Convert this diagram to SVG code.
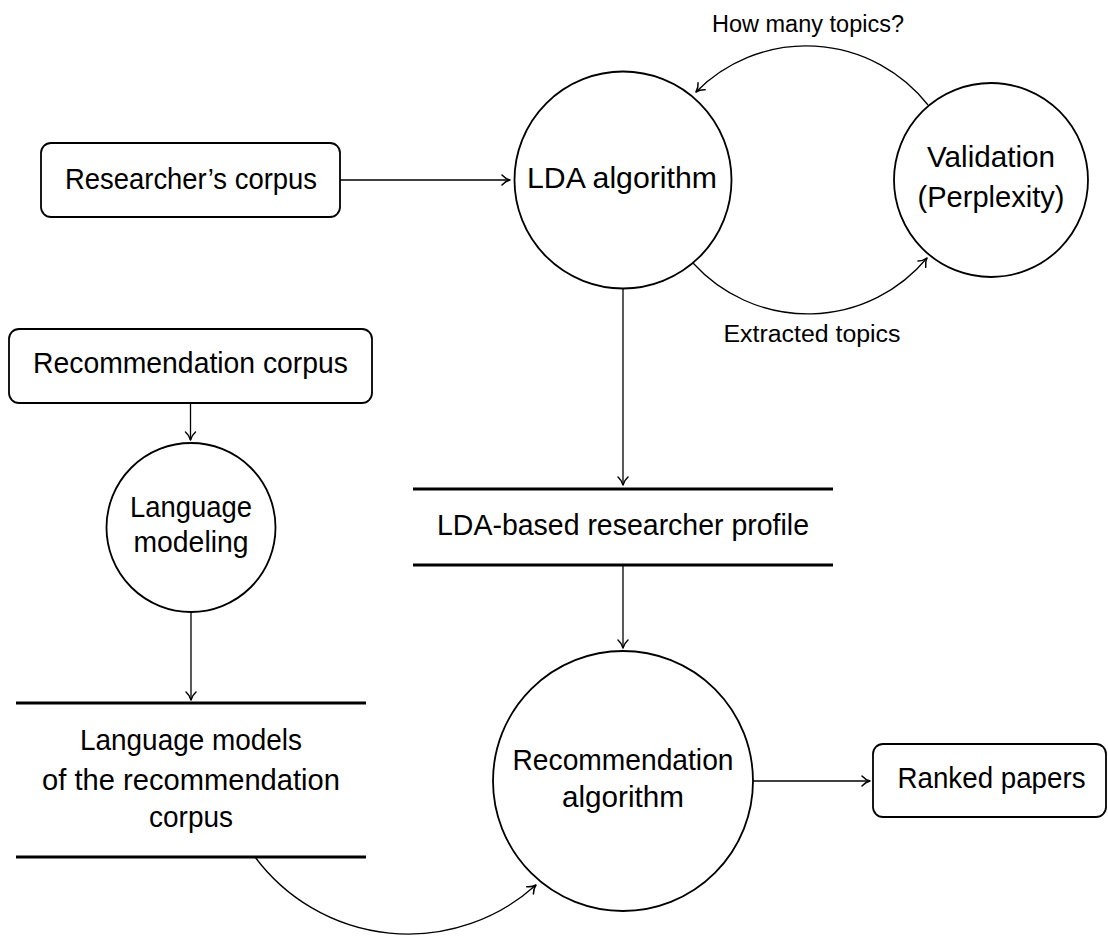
<svg xmlns="http://www.w3.org/2000/svg" width="1108" height="936" viewBox="0 0 1108 936">
<style>
.t{font-family:"Liberation Sans",Arial,sans-serif;font-size:30px;fill:#000;text-anchor:middle}
.s{font-family:"Liberation Sans",Arial,sans-serif;font-size:23px;fill:#000;text-anchor:middle}
.n{fill:#fff;stroke:#000;stroke-width:1.8}
.st{stroke:#000;stroke-width:2.8;fill:none}
.c{fill:none;stroke:#000;stroke-width:1.3}
</style>
<defs>
<marker id="a" viewBox="-10 -7 12 14" refX="0" refY="0" markerWidth="12" markerHeight="14" orient="auto" markerUnits="userSpaceOnUse">
<path d="M-8,-5 C-5.5,-2.2 -2.5,-0.6 0,0 C-2.5,0.6 -5.5,2.2 -8,5" fill="none" stroke="#000" stroke-width="1.5" stroke-linecap="round" stroke-linejoin="round"/>
</marker>
</defs>
<g id="connectors">
<path class="c" d="M340,180 H510" marker-end="url(#a)"/>
<path class="c" d="M928,105 A155,155 0 0 0 696,92" marker-end="url(#a)"/>
<path class="c" d="M693,263 A155,155 0 0 0 927,258" marker-end="url(#a)"/>
<path class="c" d="M623,288.5 V485" marker-end="url(#a)"/>
<path class="c" d="M623,565 V648" marker-end="url(#a)"/>
<path class="c" d="M190.5,403 V440" marker-end="url(#a)"/>
<path class="c" d="M191,612 V700" marker-end="url(#a)"/>
<path class="c" d="M255,857 A191,191 0 0 0 536,885" marker-end="url(#a)"/>
<path class="c" d="M753,781 H870" marker-end="url(#a)"/>
</g>
<g id="label-how"><text class="s" x="808" y="32" textLength="192" lengthAdjust="spacingAndGlyphs">How many topics?</text></g>
<g id="label-extracted"><text class="s" x="812" y="342" textLength="177" lengthAdjust="spacingAndGlyphs">Extracted topics</text></g>
<g id="researchers-corpus">
<rect class="n" x="41" y="143" width="299" height="74" rx="10"/>
<text class="t" x="191" y="189" textLength="252" lengthAdjust="spacingAndGlyphs">Researcher’s corpus</text>
</g>
<g id="lda-algorithm">
<circle class="n" cx="623" cy="180" r="108.5"/>
<text class="t" x="622" y="188" textLength="190" lengthAdjust="spacingAndGlyphs">LDA algorithm</text>
</g>
<g id="validation">
<circle class="n" cx="991" cy="180" r="97"/>
<text class="t" x="991" y="167" textLength="128" lengthAdjust="spacingAndGlyphs">Validation</text>
<text class="t" x="991" y="207" textLength="147" lengthAdjust="spacingAndGlyphs">(Perplexity)</text>
</g>
<g id="lda-profile">
<line class="st" x1="413" y1="489" x2="833" y2="489"/>
<line class="st" x1="413" y1="565" x2="833" y2="565"/>
<text class="t" x="623" y="535" textLength="372" lengthAdjust="spacingAndGlyphs">LDA-based researcher profile</text>
</g>
<g id="recommendation-corpus">
<rect class="n" x="9" y="329" width="363" height="74" rx="10"/>
<text class="t" x="190.5" y="373" textLength="315" lengthAdjust="spacingAndGlyphs">Recommendation corpus</text>
</g>
<g id="language-modeling">
<circle class="n" cx="191" cy="527.5" r="84.5"/>
<text class="t" x="191" y="517" textLength="122" lengthAdjust="spacingAndGlyphs">Language</text>
<text class="t" x="191" y="552" textLength="115" lengthAdjust="spacingAndGlyphs">modeling</text>
</g>
<g id="language-models">
<line class="st" x1="16" y1="703" x2="366" y2="703"/>
<line class="st" x1="16" y1="857" x2="366" y2="857"/>
<text class="t" x="191" y="750" textLength="222" lengthAdjust="spacingAndGlyphs">Language models</text>
<text class="t" x="191" y="790" textLength="298" lengthAdjust="spacingAndGlyphs">of the recommendation</text>
<text class="t" x="191" y="827" textLength="84" lengthAdjust="spacingAndGlyphs">corpus</text>
</g>
<g id="recommendation-algorithm">
<circle class="n" cx="623" cy="781" r="130"/>
<text class="t" x="623" y="770" textLength="221" lengthAdjust="spacingAndGlyphs">Recommendation</text>
<text class="t" x="623" y="807" textLength="122" lengthAdjust="spacingAndGlyphs">algorithm</text>
</g>
<g id="ranked-papers">
<rect class="n" x="873" y="744" width="233" height="73" rx="10"/>
<text class="t" x="991.5" y="788" textLength="188" lengthAdjust="spacingAndGlyphs">Ranked papers</text>
</g>
</svg>
